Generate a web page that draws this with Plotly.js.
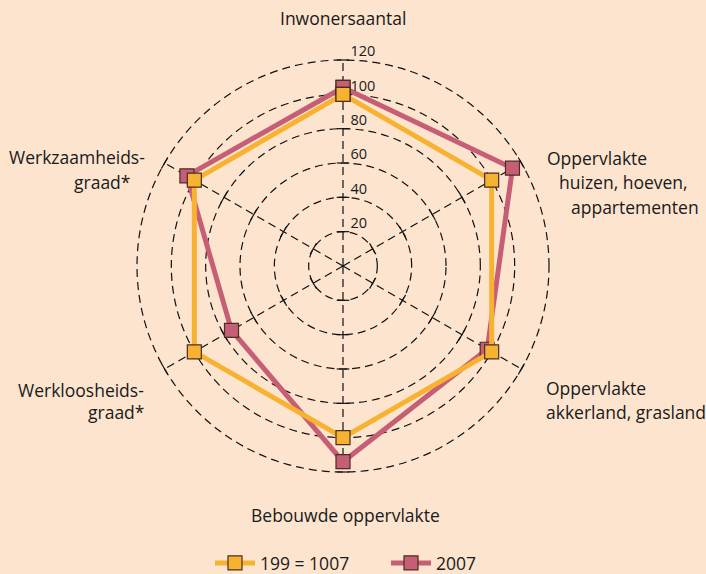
<!DOCTYPE html>
<html>
<head>
<meta charset="utf-8">
<script src="https://cdn.plot.ly/plotly-3.0.1.min.js"></script>
<style>
  html, body { margin: 0; padding: 0; background: #fce4cf; }
  #chart { width: 706px; height: 574px; }
</style>
</head>
<body>
<div id="chart"></div>
<script>
// axes of the radar, clockwise from the top
var categories = ['Inwonersaantal', 'Oppervlakte huizen, hoeven, appartementen', 'Oppervlakte akkerland, grasland',
  'Bebouwde oppervlakte', 'Werkloosheidsgraad*', 'Werkzaamheidsgraad*'];
var labelLines = [
  ['Inwonersaantal'],
  ['Oppervlakte', 'huizen, hoeven,', 'appartementen'],
  ['Oppervlakte', 'akkerland, grasland'],
  ['Bebouwde oppervlakte'],
  ['Werkloosheids-', 'graad*'],
  ['Werkzaamheids-', 'graad*']
];
var values1997 = [100, 100, 100, 100, 100, 100];
var values2007 = [104, 114, 97, 114, 75, 105];
var seriesNames = ['199 = 1007', '2007'];
var radialTicks = [20, 40, 60, 80, 100, 120];

var W = 706, H = 574;
var FONT = 'Open Sans, sans-serif';
var orange = '#f8b232', rose = '#c65e76', edge = '#4a2e22';

function closeLoop(a) { return a.concat([a[0]]); }

// little cross ticks on every spoke, at every ring
var tickR = [], tickT = [], tickA = [];
categories.forEach(function(c, i) {
  radialTicks.forEach(function(v) {
    tickR.push(v); tickT.push(c); tickA.push(i * 60);
  });
});

var traces = [
  {
    type: 'scatterpolar', r: tickR, theta: tickT, mode: 'markers',
    marker: { symbol: 'line-ew', size: 9, angle: tickA, line: { color: '#111', width: 1.2 } },
    showlegend: false, hoverinfo: 'skip'
  },
  {
    type: 'scatterpolar', name: seriesNames[1],
    r: closeLoop(values2007), theta: closeLoop(categories), mode: 'lines+markers',
    line: { color: rose, width: 5 },
    marker: { symbol: 'square', size: 14, color: rose, line: { color: edge, width: 1.2 } }
  },
  {
    type: 'scatterpolar', name: seriesNames[0],
    r: closeLoop(values1997), theta: closeLoop(categories), mode: 'lines+markers',
    line: { color: orange, width: 5 },
    marker: { symbol: 'square', size: 14, color: orange, line: { color: edge, width: 1.2 } }
  },
  {
    // ring values, written just above-right of each ring on the top spoke
    type: 'scatterpolar', r: radialTicks, theta: radialTicks.map(function() { return categories[0]; }),
    mode: 'text', text: radialTicks.map(function(v) { return '\u00a0\u00a0' + v; }), textposition: 'top right',
    textfont: { family: FONT, size: 14.5, color: '#1a1a1a' },
    showlegend: false, hoverinfo: 'skip'
  }
];

// label placement (pixels): anchor x, y per line, and text anchor
var labelPos = [
  { x: [343], y: [18], anchor: 'center' },
  { x: [545, 557, 569], y: [158, 182, 207], anchor: 'left' },
  { x: [544, 544], y: [388, 412], anchor: 'left' },
  { x: [345], y: [515], anchor: 'center' },
  { x: [146, 146], y: [390, 412], anchor: 'right' },
  { x: [147, 132], y: [157, 182], anchor: 'right' }
];
var annotations = [];
labelLines.forEach(function(lines, i) {
  lines.forEach(function(txt, j) {
    annotations.push({
      xref: 'paper', yref: 'paper', showarrow: false,
      x: labelPos[i].x[j] / W, y: 1 - labelPos[i].y[j] / H,
      xanchor: labelPos[i].anchor, yanchor: 'middle',
      text: txt, font: { family: FONT, size: 17.5, color: '#1a1a1a' }
    });
  });
});

// rmax slightly past 120 so the 120 ring is drawn as a dashed grid circle
var rMax = 121;
var cx = 343, cy = 266, rad = 206 * rMax / 120;
var layout = {
  width: W, height: H,
  margin: { l: 0, r: 0, t: 0, b: 0, autoexpand: false },
  paper_bgcolor: '#fce4cf',
  plot_bgcolor: '#fce4cf',
  font: { family: FONT, color: '#1a1a1a' },
  showlegend: true,
  legend: {
    orientation: 'h', traceorder: 'reversed',
    x: 210 / W, xanchor: 'left', y: 1 - 563 / H, yanchor: 'middle',
    font: { family: FONT, size: 17.5, color: '#1a1a1a' },
    itemwidth: 40, entrywidth: 121, bgcolor: 'rgba(0,0,0,0)'
  },
  polar: {
    domain: { x: [(cx - rad) / W, (cx + rad) / W], y: [1 - (cy + rad) / H, 1 - (cy - rad) / H] },
    bgcolor: 'rgba(0,0,0,0)',
    radialaxis: {
      range: [0, rMax], tickvals: radialTicks, angle: 90,
      showline: false, ticks: '', showticklabels: false, showgrid: true,
      gridcolor: '#111', griddash: '8px,5px', gridwidth: 1.2
    },
    angularaxis: {
      type: 'category', categoryarray: categories,
      direction: 'clockwise', rotation: 90,
      showline: false, ticks: '', showticklabels: false,
      gridcolor: '#111', griddash: '8px,5px', gridwidth: 1.2
    }
  },
  annotations: annotations
};

Plotly.newPlot('chart', traces, layout, { displayModeBar: false, staticPlot: true });
</script>
</body>
</html>
